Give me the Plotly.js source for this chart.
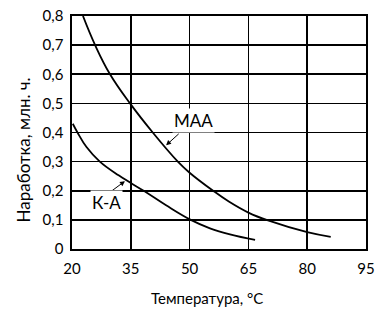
<!DOCTYPE html>
<html>
<head>
<meta charset="utf-8">
<script src="https://cdn.plot.ly/plotly-3.0.1.min.js"></script>
<style>html,body{margin:0;padding:0;background:#fff;}#chart{width:376px;height:315px;}</style>
</head>
<body>
<div id="chart"></div>
<script>
// Curve МАА
const maaTemp = [22.8, 25.9, 29.7, 34.8, 40.6, 47.0, 50.0, 56.0, 60.0, 65.0, 70.0, 80.0, 86.0];
const maaLife = [0.80, 0.70, 0.60, 0.50, 0.40, 0.30, 0.262, 0.20, 0.163, 0.125, 0.098, 0.058, 0.042];
// Curve К-А
const kaTemp = [20.2, 21.4, 23.7, 27.1, 32.0, 38.5, 44.0, 50.3, 55.2, 60.3, 66.7];
const kaLife = [0.43, 0.40, 0.35, 0.30, 0.252, 0.198, 0.150, 0.100, 0.071, 0.050, 0.031];

const xTickVals = [20, 35, 50, 65, 80, 95];
const xTickText = ['20', '35', '50', '65', '80', '95'];
const yTickVals = [0, 0.1, 0.2, 0.3, 0.4, 0.5, 0.6, 0.7, 0.8];
const yTickText = ['0', '0,1', '0,2', '0,3', '0,4', '0,5', '0,6', '0,7', '0,8'];

const seriesNames = ['МАА', 'К-А'];
const xTitle = 'Температура, °C';
const yTitle = 'Наработка, млн. ч.';

const font = 'Lato, Open Sans, sans-serif';
const lineStyle = {color: '#000', width: 1.8, shape: 'spline', smoothing: 1.2};

const traces = [
  {x: maaTemp, y: maaLife, mode: 'lines', line: lineStyle, name: seriesNames[0], hoverinfo: 'skip'},
  {x: kaTemp, y: kaLife, mode: 'lines', line: lineStyle, name: seriesNames[1], hoverinfo: 'skip'}
];

const layout = {
  width: 376, height: 315,
  margin: {l: 72, r: 10, t: 16, b: 66},
  paper_bgcolor: '#fff', plot_bgcolor: '#fff',
  showlegend: false,
  font: {family: font, size: 15, color: '#000'},
  xaxis: {
    range: [20, 95], tickvals: xTickVals, ticktext: xTickText,
    showgrid: true, gridcolor: '#000', gridwidth: 1.6,
    showline: true, linecolor: '#000', linewidth: 1.6, mirror: true,
    ticks: '', zeroline: false, tickfont: {family: font, size: 15},
    ticklabelstandoff: 5
  },
  yaxis: {
    range: [0, 0.8], tickvals: yTickVals, ticktext: yTickText,
    showgrid: true, gridcolor: '#000', gridwidth: 1.6,
    showline: true, linecolor: '#000', linewidth: 1.6, mirror: true,
    ticks: '', zeroline: false, tickfont: {family: font, size: 15},
    ticklabelstandoff: 4
  },
  annotations: [
    {xref: 'paper', yref: 'paper', x: 0.459, y: -0.21, xanchor: 'center', yanchor: 'middle',
     text: xTitle, showarrow: false, font: {family: font, size: 15, color: '#000'}},
    {xref: 'paper', yref: 'paper', x: -0.165, y: 0.425, xanchor: 'center', yanchor: 'middle',
     text: yTitle, textangle: -90, showarrow: false, font: {family: font, size: 17, color: '#000'}},
    {x: 44.0, y: 0.356, ax: 47.6, ay: 0.40, axref: 'x', ayref: 'y', xref: 'x', yref: 'y',
     text: '', showarrow: true, arrowhead: 2, arrowsize: 1, arrowwidth: 1, arrowcolor: '#000'},
    {x: 50.9, y: 0.442, xref: 'x', yref: 'y', text: seriesNames[0], showarrow: false,
     font: {family: font, size: 17, color: '#000'}, bgcolor: '#fff', borderpad: 1},
    {x: 33.5, y: 0.233, ax: 29.4, ay: 0.192, axref: 'x', ayref: 'y', xref: 'x', yref: 'y',
     text: '', showarrow: true, arrowhead: 2, arrowsize: 1, arrowwidth: 1, arrowcolor: '#000'},
    {x: 28.7, y: 0.158, xref: 'x', yref: 'y', text: seriesNames[1], showarrow: false,
     font: {family: font, size: 17, color: '#000'}, bgcolor: '#fff', borderpad: 1}
  ]
};

Plotly.newPlot('chart', traces, layout, {staticPlot: true, displayModeBar: false});
</script>
</body>
</html>
